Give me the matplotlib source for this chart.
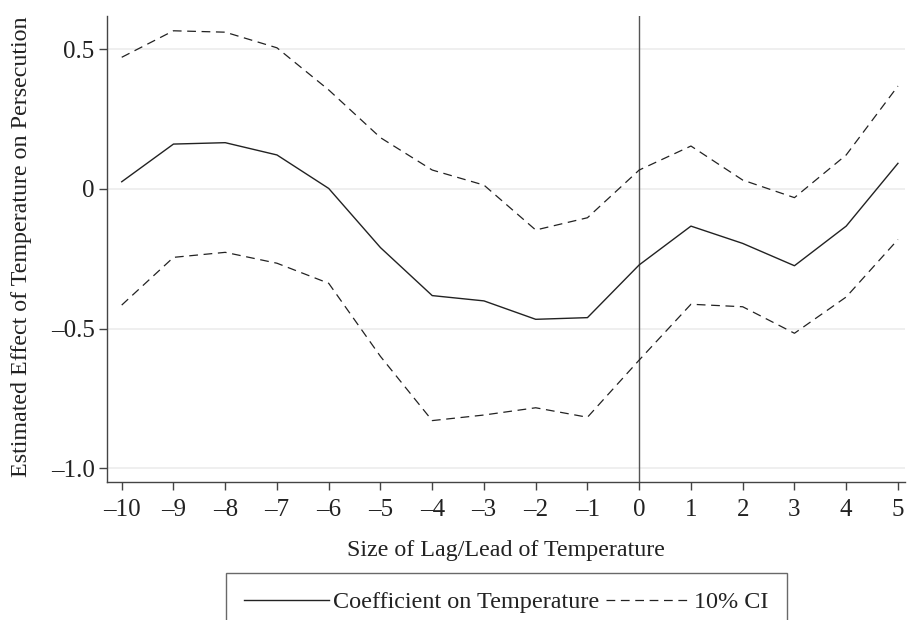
import matplotlib
matplotlib.use("Agg")
import matplotlib.pyplot as plt
from matplotlib.lines import Line2D

lags = [-10, -9, -8, -7, -6, -5, -4, -3, -2, -1, 0, 1, 2, 3, 4, 5]
coef = [0.026, 0.161, 0.166, 0.122, 0.002, -0.21, -0.382, -0.401, -0.467, -0.461,
        -0.272, -0.133, -0.195, -0.275, -0.133, 0.092]
ci_hi = [0.472, 0.567, 0.562, 0.506, 0.355, 0.184, 0.068, 0.014, -0.147, -0.103,
         0.068, 0.154, 0.032, -0.031, 0.122, 0.369]
ci_lo = [-0.416, -0.245, -0.227, -0.266, -0.338, -0.60, -0.830, -0.810, -0.784, -0.818,
         -0.613, -0.413, -0.422, -0.517, -0.387, -0.181]
yticks = [-1.0, -0.5, 0, 0.5]
ytick_labels = ["–1.0", "–0.5", "0", "0.5"]
xtick_labels = [("–%d" % -v) if v < 0 else str(v) for v in lags]

plt.rcParams['font.family'] = ['Liberation Serif', 'DejaVu Serif']

fig = plt.figure(figsize=(9.07, 6.2), dpi=100)
ax = fig.add_axes([0.118, 0.2226, 0.880, 0.7516])

dash = (0, (7, 4.5))
ax.axvline(0, color='#555555', lw=1.0, zorder=1)
ax.plot(lags, coef, color='#222222', lw=1.0)
ax.plot(lags, ci_hi, color='#222222', lw=0.9, linestyle=dash)
ax.plot(lags, ci_lo, color='#222222', lw=0.9, linestyle=dash)

ax.set_xlim(-10.284, 5.14)
ax.set_ylim(-1.05, 0.62)
ax.set_yticks(yticks)
ax.set_yticklabels(ytick_labels)
ax.set_xticks(lags)
ax.set_xticklabels(xtick_labels)
ax.yaxis.grid(True, color='#ececec', lw=1.2)
ax.set_axisbelow(True)

for s in ['top', 'right']:
    ax.spines[s].set_visible(False)
for s in ['left', 'bottom']:
    ax.spines[s].set_color('#444444')
    ax.spines[s].set_linewidth(1.0)
ax.tick_params(axis='both', length=6, width=1.0, color='#444444',
               labelsize=18, labelcolor='#222222')
ax.tick_params(axis='x', pad=6)
ax.tick_params(axis='y', pad=3)

ax.set_xlabel('Size of Lag/Lead of Temperature', fontsize=17.3, color='#222222', labelpad=14)
ax.set_ylabel('Estimated Effect of Temperature on Persecution', fontsize=17.3,
              color='#222222')
ax.yaxis.set_label_coords(-0.094, 0.505)

handles = [Line2D([], [], color='#222222', lw=1.0),
           Line2D([], [], color='#222222', lw=0.9, linestyle=dash)]
leg = fig.legend(handles, ['Coefficient on Temperature', '10% CI'], ncol=2,
                 loc='upper center', bbox_to_anchor=(0.5584, 0.0758),
                 fontsize=17.4, frameon=True, fancybox=False, handlelength=3.5,
                 handletextpad=0.15, columnspacing=0.3, borderpad=0.75,
                 borderaxespad=0)
leg.get_frame().set_edgecolor('#444444')
leg.get_frame().set_linewidth(1.0)
for t in leg.get_texts():
    t.set_color('#222222')

fig.savefig('out.png', dpi=100)
